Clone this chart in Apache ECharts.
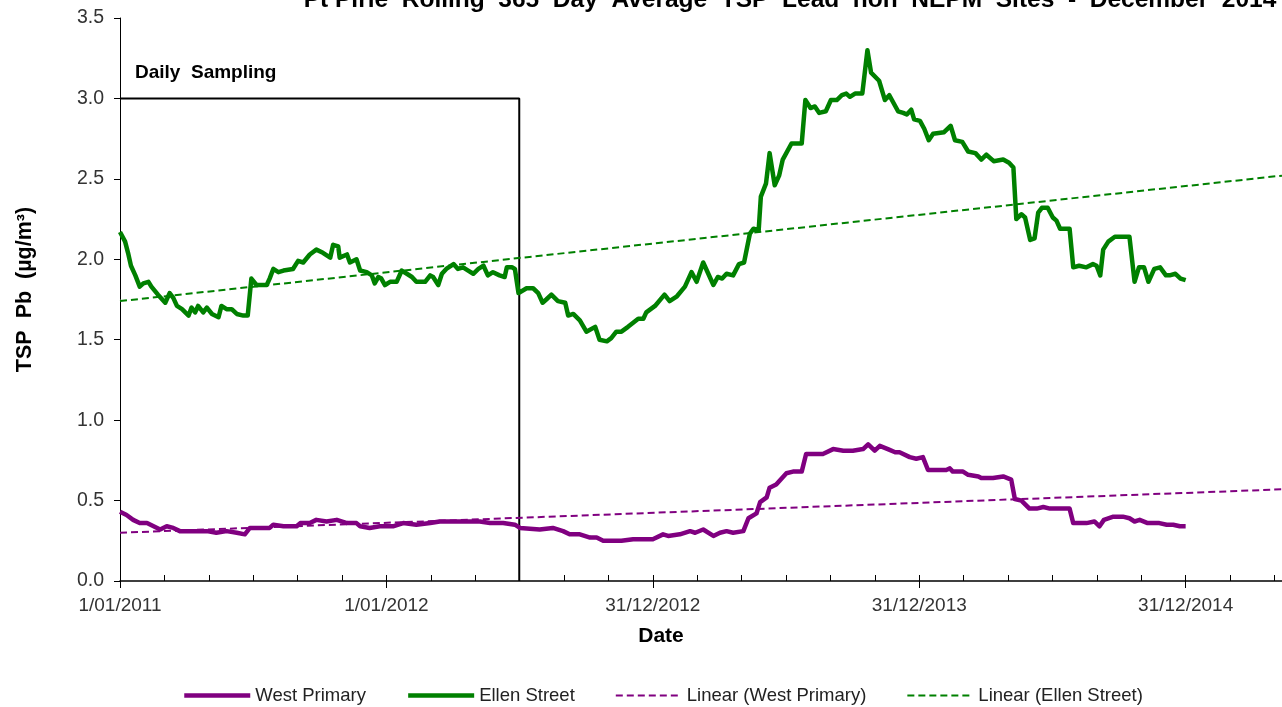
<!DOCTYPE html>
<html>
<head>
<meta charset="utf-8">
<script src="https://cdn.jsdelivr.net/npm/echarts@6/dist/echarts.min.js"></script>
<style>
html,body{margin:0;padding:0;background:#fff;}
#chart{width:1282px;height:707px;}
</style>
</head>
<body>
<div id="chart"></div>
<script>
// Day offsets counted from 1/01/2011
const xTickLabels = ['1/01/2011', '1/01/2012', '31/12/2012', '31/12/2013', '31/12/2014'];
const xTickStep = 365;
const xMaxDay = 1592;
const yTicks = [0, 0.5, 1.0, 1.5, 2.0, 2.5, 3.0, 3.5];

const westPrimary = [[0,0.43],[9,0.41],[18,0.38],[27,0.36],[37,0.36],[46,0.34],[55,0.32],[64,0.34],[73,0.33],[82,0.31],[91,0.31],[105,0.31],[119,0.31],[132,0.30],[146,0.31],[160,0.30],[171,0.29],[178,0.33],[192,0.33],[205,0.33],[210,0.35],[224,0.34],[242,0.34],[247,0.36],[260,0.36],[269,0.38],[283,0.37],[297,0.38],[311,0.36],[324,0.36],[329,0.34],[342,0.33],[356,0.34],[374,0.34],[388,0.36],[406,0.35],[425,0.36],[438,0.37],[457,0.37],[475,0.37],[493,0.37],[507,0.36],[525,0.36],[541,0.35],[548,0.33],[575,0.32],[593,0.33],[607,0.31],[616,0.29],[630,0.29],[644,0.27],[653,0.27],[662,0.25],[676,0.25],[687,0.25],[703,0.26],[717,0.26],[730,0.26],[744,0.29],[751,0.28],[767,0.29],[781,0.31],[788,0.30],[799,0.32],[813,0.28],[822,0.30],[831,0.31],[840,0.30],[854,0.31],[861,0.39],[872,0.42],[877,0.49],[886,0.52],[890,0.58],[899,0.60],[913,0.67],[922,0.68],[934,0.68],[940,0.79],[963,0.79],[977,0.82],[991,0.81],[1004,0.81],[1018,0.82],[1025,0.85],[1034,0.81],[1041,0.84],[1052,0.82],[1062,0.80],[1068,0.80],[1082,0.77],[1091,0.76],[1100,0.77],[1107,0.69],[1132,0.69],[1137,0.70],[1141,0.68],[1155,0.68],[1162,0.66],[1176,0.65],[1180,0.64],[1196,0.64],[1210,0.65],[1221,0.63],[1226,0.51],[1235,0.50],[1246,0.45],[1256,0.45],[1265,0.46],[1274,0.45],[1301,0.45],[1306,0.36],[1324,0.36],[1335,0.37],[1342,0.34],[1348,0.38],[1361,0.40],[1374,0.40],[1383,0.39],[1390,0.37],[1397,0.38],[1408,0.36],[1424,0.36],[1434,0.35],[1443,0.35],[1452,0.34],[1460,0.34]];

const ellenStreet = [[0,2.17],[7,2.11],[11,2.04],[15,1.96],[21,1.90],[27,1.83],[32,1.85],[39,1.86],[43,1.83],[52,1.78],[62,1.73],[68,1.79],[73,1.76],[78,1.71],[85,1.69],[94,1.65],[98,1.70],[103,1.67],[107,1.71],[114,1.67],[119,1.70],[126,1.66],[135,1.64],[139,1.71],[146,1.69],[153,1.69],[160,1.66],[169,1.65],[175,1.65],[180,1.88],[187,1.84],[201,1.84],[205,1.88],[210,1.94],[217,1.92],[224,1.93],[237,1.94],[244,1.99],[251,1.98],[260,2.03],[269,2.06],[278,2.04],[288,2.01],[292,2.09],[299,2.08],[301,2.01],[311,2.03],[315,1.98],[324,2.00],[329,1.93],[338,1.92],[345,1.90],[349,1.85],[354,1.89],[358,1.88],[363,1.84],[370,1.86],[379,1.86],[386,1.93],[393,1.91],[400,1.89],[406,1.86],[418,1.86],[425,1.90],[429,1.89],[436,1.84],[441,1.91],[447,1.94],[457,1.97],[463,1.94],[470,1.95],[477,1.93],[484,1.91],[491,1.94],[498,1.96],[504,1.90],[511,1.92],[520,1.90],[527,1.89],[530,1.95],[537,1.95],[541,1.94],[546,1.79],[557,1.82],[566,1.82],[573,1.79],[579,1.73],[584,1.75],[591,1.78],[600,1.74],[610,1.73],[614,1.65],[621,1.66],[630,1.62],[639,1.55],[651,1.58],[657,1.50],[667,1.49],[673,1.51],[680,1.55],[687,1.55],[696,1.58],[710,1.63],[717,1.63],[721,1.67],[733,1.71],[746,1.78],[753,1.74],[763,1.77],[774,1.83],[783,1.92],[790,1.86],[799,1.98],[813,1.84],[819,1.89],[825,1.88],[831,1.91],[840,1.90],[848,1.97],[855,1.98],[863,2.16],[868,2.19],[875,2.18],[878,2.39],[885,2.47],[890,2.66],[897,2.46],[903,2.52],[908,2.62],[920,2.72],[934,2.72],[939,2.99],[946,2.94],[952,2.95],[958,2.91],[967,2.92],[974,2.99],[982,2.99],[989,3.02],[995,3.03],[1000,3.01],[1007,3.03],[1017,3.03],[1024,3.30],[1029,3.16],[1040,3.11],[1048,2.99],[1054,3.02],[1066,2.92],[1073,2.91],[1078,2.90],[1084,2.93],[1088,2.87],[1096,2.86],[1102,2.81],[1108,2.74],[1114,2.78],[1129,2.79],[1138,2.83],[1144,2.74],[1154,2.73],[1162,2.67],[1172,2.66],[1180,2.62],[1187,2.65],[1197,2.61],[1210,2.62],[1218,2.60],[1224,2.57],[1228,2.25],[1235,2.28],[1240,2.26],[1247,2.12],[1253,2.13],[1258,2.29],[1263,2.32],[1271,2.32],[1278,2.26],[1283,2.24],[1288,2.19],[1301,2.19],[1306,1.95],[1314,1.96],[1324,1.95],[1333,1.97],[1338,1.96],[1343,1.90],[1347,2.06],[1354,2.11],[1363,2.14],[1372,2.14],[1383,2.14],[1390,1.86],[1396,1.95],[1403,1.95],[1409,1.86],[1417,1.94],[1425,1.95],[1433,1.90],[1438,1.90],[1446,1.91],[1453,1.88],[1460,1.87]];

// Linear trend values at axis start (day 0) and axis end (xMaxDay)
const westTrend = [0.30, 0.57];
const ellenTrend = [1.74, 2.52];

// Daily sampling period outline (1/01/2011 to 1/07/2012, at 3.0)
const samplingDays = [0, 547, 547];
const samplingValues = [3.0, 3.0, 0.0];

const FONT = "'Liberation Sans', Arial, sans-serif";

const chart = echarts.init(document.getElementById('chart'), null, {renderer: 'canvas'});

chart.setOption({
  animation: false,
  backgroundColor: '#fff',
  title: {
    text: 'Pt Pirie  Rolling  365  Day  Average  TSP  Lead  non  NEPM  Sites  -  December  2014',
    left: 785,
    textAlign: 'center',
    top: -17,
    textStyle: {fontFamily: FONT, fontWeight: 'bold', fontSize: 24.5, color: '#000'}
  },
  graphic: [{
    type: 'text',
    left: 135,
    top: 63,
    style: {text: 'Daily  Sampling', font: "bold 19px 'Liberation Sans', Arial, sans-serif", fill: '#000'}
  }],
  legend: {
    left: 182,
    top: 686,
    padding: 0,
    itemWidth: 66,
    itemHeight: 12,
    itemGap: 40,
    data: ['West Primary', 'Ellen Street', 'Linear (West Primary)', 'Linear (Ellen Street)'],
    itemStyle: {opacity: 0},
    lineStyle: {width: 'inherit', type: 'inherit'},
    textStyle: {fontFamily: FONT, fontSize: 18.5, color: '#222'}
  },
  grid: {left: 120, right: 0, top: 18, bottom: 126, containLabel: false},
  xAxis: [{
    type: 'value',
    min: 0,
    max: xMaxDay,
    interval: xTickStep,
    position: 'bottom',
    name: 'Date',
    nameLocation: 'middle',
    nameGap: 45,
    nameTextStyle: {fontFamily: FONT, fontWeight: 'bold', fontSize: 21, color: '#000', padding: [0, 80, 0, 0]},
    axisLine: {show: true, lineStyle: {color: '#000', width: 1.5}},
    axisTick: {show: true, inside: false, length: 7, lineStyle: {color: '#000', width: 1}},
    axisLabel: {
      fontFamily: FONT, fontSize: 19, color: '#333', margin: 15,
      showMaxLabel: false,
      formatter: function (v) {
        const i = Math.round(v / xTickStep);
        return (Math.abs(v - i * xTickStep) < 0.01 && xTickLabels[i]) ? xTickLabels[i] : '';
      }
    },
    splitLine: {show: false}
  }, {
    type: 'value',
    min: 0,
    max: xMaxDay,
    interval: xTickStep / 6,
    position: 'bottom',
    axisLine: {show: false},
    axisTick: {show: true, inside: true, length: 6, lineStyle: {color: '#000', width: 1}},
    axisLabel: {show: false},
    splitLine: {show: false}
  }],
  yAxis: {
    type: 'value',
    min: yTicks[0],
    max: yTicks[yTicks.length - 1],
    interval: 0.5,
    name: 'TSP  Pb  (µg/m³)',
    nameLocation: 'middle',
    nameRotate: 90,
    nameGap: 84,
    nameTextStyle: {fontFamily: FONT, fontWeight: 'bold', fontSize: 21.5, color: '#000', padding: [0, 0, 0, 20]},
    axisLine: {show: true, lineStyle: {color: '#000', width: 1}},
    axisTick: {show: true, inside: false, length: 6, lineStyle: {color: '#000'}},
    axisLabel: {fontFamily: FONT, fontSize: 19.5, color: '#333', margin: 16,
      formatter: v => v.toFixed(1)},
    splitLine: {show: false}
  },
  series: [
    {
      name: 'Daily Sampling Period',
      type: 'line',
      xAxisIndex: 0,
      data: samplingDays.map((d, i) => [d, samplingValues[i]]),
      symbol: 'none',
      lineStyle: {color: '#000', width: 2},
      itemStyle: {color: '#000'},
      silent: true,
      z: 1
    },
    {
      name: 'West Primary',
      type: 'line',
      xAxisIndex: 0,
      data: westPrimary,
      symbol: 'none',
      lineStyle: {color: '#800080', width: 4.5, join: 'round'},
      itemStyle: {color: '#800080'},
      z: 3
    },
    {
      name: 'Ellen Street',
      type: 'line',
      xAxisIndex: 0,
      data: ellenStreet,
      symbol: 'none',
      lineStyle: {color: '#008000', width: 4.5, join: 'round'},
      itemStyle: {color: '#008000'},
      z: 3
    },
    {
      name: 'Linear (West Primary)',
      type: 'line',
      xAxisIndex: 0,
      data: [[0, westTrend[0]], [xMaxDay, westTrend[1]]],
      symbol: 'none',
      lineStyle: {color: '#800080', width: 2, type: [7, 4]},
      itemStyle: {color: '#800080'},
      z: 4
    },
    {
      name: 'Linear (Ellen Street)',
      type: 'line',
      xAxisIndex: 0,
      data: [[0, ellenTrend[0]], [xMaxDay, ellenTrend[1]]],
      symbol: 'none',
      lineStyle: {color: '#008000', width: 2, type: [7, 4]},
      itemStyle: {color: '#008000'},
      z: 4
    }
  ]
});
</script>
</body>
</html>
